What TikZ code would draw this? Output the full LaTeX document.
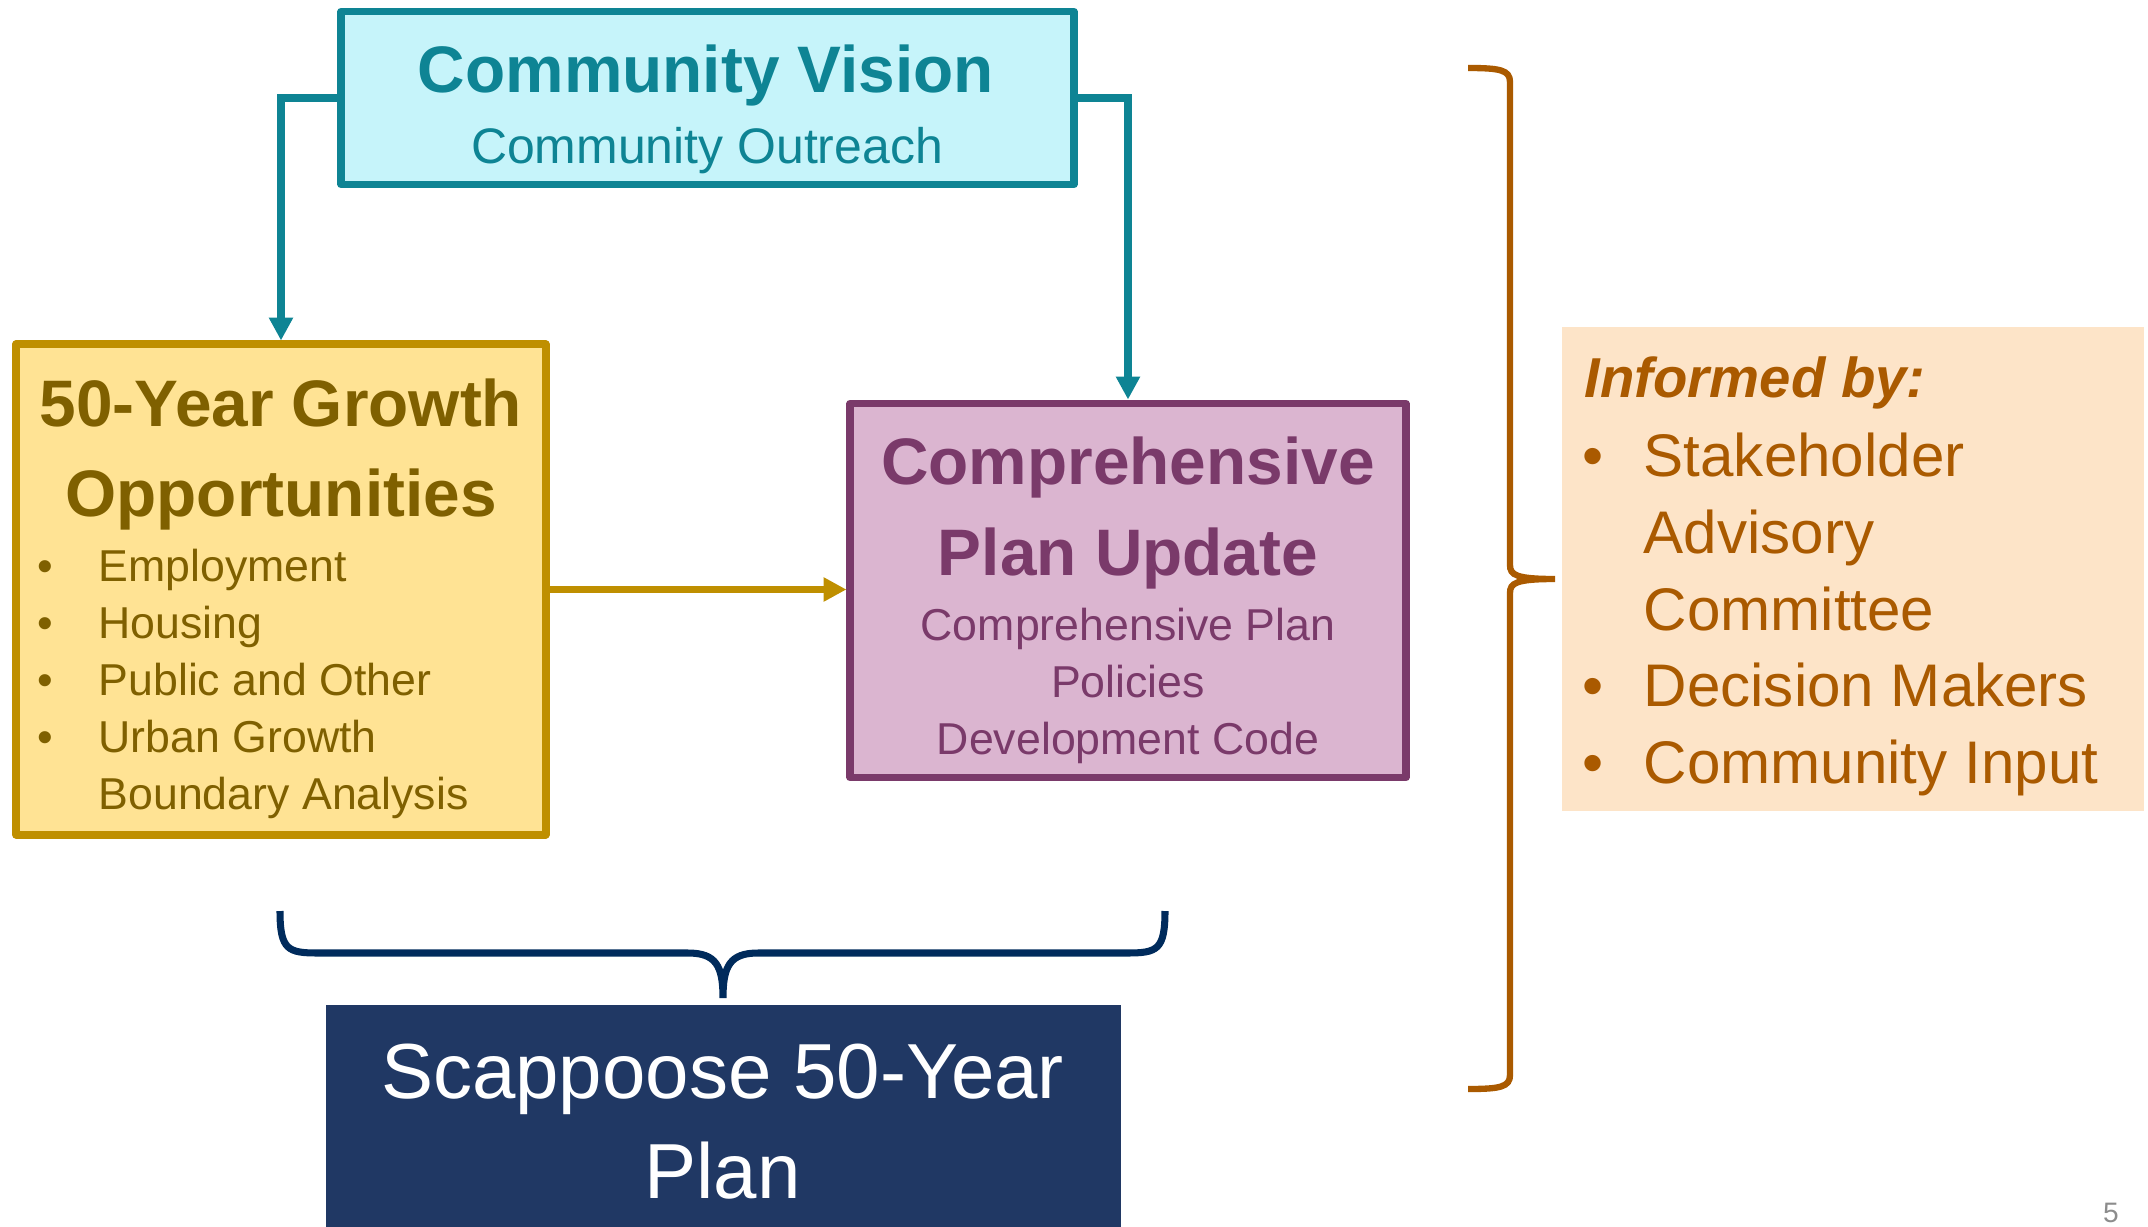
\documentclass[tikz,border=0pt]{standalone}
\usepackage{fontspec}
\setmainfont{Liberation Sans}
\usepackage{tikz}
\usetikzlibrary{arrows.meta}

\definecolor{tealline}{HTML}{0E8494}
\definecolor{tealfill}{HTML}{C6F4FA}
\definecolor{goldline}{HTML}{BF8F00}
\definecolor{goldfill}{HTML}{FFE394}
\definecolor{goldtext}{HTML}{7F6000}
\definecolor{plumline}{HTML}{7A3A6A}
\definecolor{plumfill}{HTML}{DBB5D0}
\definecolor{navyfill}{HTML}{203864}
\definecolor{navybrace}{HTML}{002B5C}
\definecolor{peachfill}{HTML}{FDE4C8}
\definecolor{rusttext}{HTML}{AA5A00}
\definecolor{pagegray}{HTML}{8C8C8C}

\tikzset{
  box/.style={draw, line width=2.2pt, line join=round, inner sep=0pt},
  head/.style={anchor=base, inner sep=0pt, font=\fontsize{18.7}{22}\selectfont\bfseries},
  item/.style={anchor=base west, inner sep=0pt, font=\fontsize{12.7}{15}\selectfont},
  sub/.style={anchor=base, inner sep=0pt, font=\fontsize{12.7}{15}\selectfont},
  dot/.style={anchor=base, inner sep=0pt, font=\fontsize{12.7}{15}\selectfont},
  note/.style={anchor=base west, inner sep=0pt, font=\fontsize{17.1}{20}\selectfont},
  link/.style={line width=2.2pt, -{Triangle[length=6.5pt,width=6.5pt]}},
}

\begin{document}
\begin{tikzpicture}[x=0.01cm, y=-0.01cm]
    \useasboundingbox (0,0) rectangle (2148,1227);
    % boxes
    \node[box, draw=tealline, fill=tealfill, minimum width=7.32cm, minimum height=1.73cm] (vision) at (707.5,98) {};
    \node[box, draw=goldline, fill=goldfill, minimum width=5.29cm, minimum height=4.90cm] (growth) at (281,589.5) {};
    \node[box, draw=plumline, fill=plumfill, minimum width=5.55cm, minimum height=3.74cm] (plan) at (1128,590.5) {};
    \node[fill=navyfill, inner sep=0pt, minimum width=7.95cm, minimum height=2.22cm] (final) at (723.5,1116) {};
    \node[fill=peachfill, inner sep=0pt, minimum width=5.82cm, minimum height=4.84cm] (informed) at (1853,569) {};
    % connectors
    \draw[link, tealline] (vision.west) -| (growth.north);
    \draw[link, tealline] (vision.east) -| (plan.north);
    \draw[link, goldline] (growth.east) -- (growth.east -| plan.west);
    % community vision
    \node[head, text=tealline] (visiontitle) at (706,92) {Community Vision};
    \node[anchor=base, inner sep=0pt, text=tealline, font=\fontsize{14.2}{17}\selectfont] (visionsub) at (707,163) {Community Outreach};
    % growth opportunities
    \node[head, text=goldtext] (growthtitle) at (281,426) {50-Year Growth};
    \node[head, text=goldtext] (growthtitleb) at (281,516) {Opportunities};
    \node[dot, text=goldtext] (gdota) at (45,581) {•};
    \node[item, text=goldtext] (gitema) at (98,581) {Employment};
    \node[dot, text=goldtext] (gdotb) at (45,638) {•};
    \node[item, text=goldtext] (gitemb) at (98,638) {Housing};
    \node[dot, text=goldtext] (gdotc) at (45,695) {•};
    \node[item, text=goldtext] (gitemc) at (98,695) {Public and Other};
    \node[dot, text=goldtext] (gdotd) at (45,752) {•};
    \node[item, text=goldtext] (gitemd) at (98,752) {Urban Growth};
    \node[item, text=goldtext] (giteme) at (98,809) {Boundary Analysis};
    % comprehensive plan
    \node[head, text=plumline] (plantitle) at (1128,484) {Comprehensive};
    \node[head, text=plumline] (plantitleb) at (1128,575) {Plan Update};
    \node[sub, text=plumline] (plansuba) at (1128,640) {Comprehensive Plan};
    \node[sub, text=plumline] (plansubb) at (1128,697) {Policies};
    \node[sub, text=plumline] (plansubc) at (1128,754) {Development Code};
    % final plan
    \node[anchor=base, inner sep=0pt, text=white, font=\fontsize{22.2}{26}\selectfont] (finala) at (722.5,1098) {Scappoose 50-Year};
    \node[anchor=base, inner sep=0pt, text=white, font=\fontsize{22.2}{26}\selectfont] (finalb) at (722.5,1198) {Plan};
    % braces
    \draw[navybrace, line width=2pt]
(280,911) .. controls (280,950) and (288,953) .. (318,953) --
(688,953) .. controls (716,953) and (723,966) .. (723,998)
          .. controls (723,966) and (730,953) .. (758,953) --
(1127,953) .. controls (1157,953) and (1165,950) .. (1165,911);
    \draw[rusttext, line width=1.8pt]
(1468,68) .. controls (1500,68) and (1510,70) .. (1510,82) --
(1510,565) .. controls (1510,575) and (1516,579) .. (1555,579)
           .. controls (1516,579) and (1510,583) .. (1510,593) --
(1510,1075) .. controls (1510,1087) and (1500,1089) .. (1468,1089);
    % informed by
    \node[note, text=rusttext, font=\fontsize{16}{20}\selectfont\bfseries\itshape] (informedtitle) at (1584,397) {Informed by:};
    \node[anchor=base, inner sep=0pt, text=rusttext, font=\fontsize{17.1}{20}\selectfont] (idota) at (1593,476) {•};
    \node[note, text=rusttext] (iitema) at (1643,476) {Stakeholder};
    \node[note, text=rusttext] (iitemb) at (1643,553) {Advisory};
    \node[note, text=rusttext] (iitemc) at (1643,630) {Committee};
    \node[anchor=base, inner sep=0pt, text=rusttext, font=\fontsize{17.1}{20}\selectfont] (idotb) at (1593,706) {•};
    \node[note, text=rusttext] (iitemd) at (1643,706) {Decision Makers};
    \node[anchor=base, inner sep=0pt, text=rusttext, font=\fontsize{17.1}{20}\selectfont] (idotc) at (1593,783) {•};
    \node[note, text=rusttext] (iiteme) at (1643,783) {Community Input};
    % page number
    \node[anchor=base, inner sep=0pt, text=pagegray, font=\fontsize{8}{10}\selectfont] (pagenum) at (2111,1222) {5};
\end{tikzpicture}
\end{document}
